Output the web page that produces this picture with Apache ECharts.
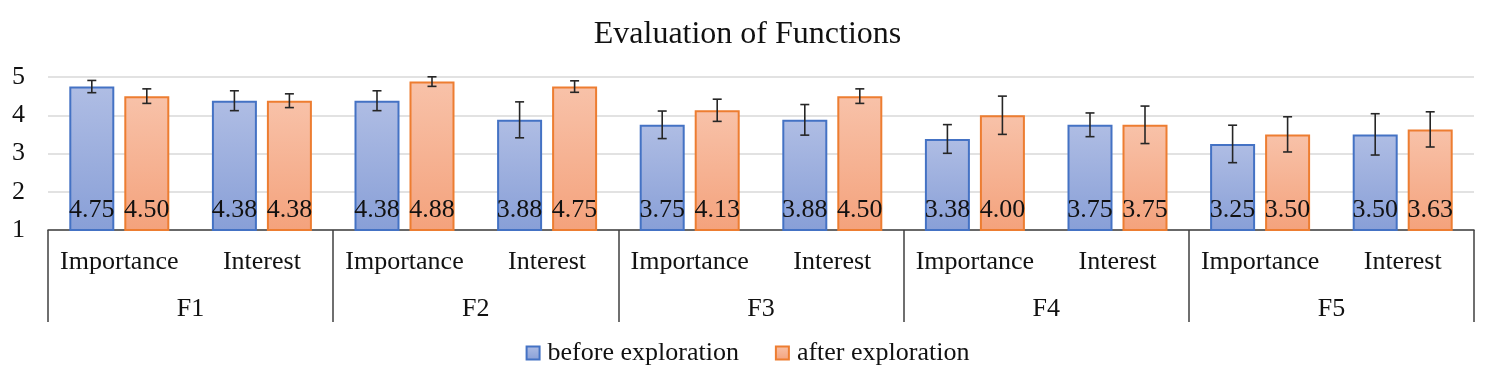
<!DOCTYPE html>
<html><head><meta charset="utf-8">
<script src="https://cdn.jsdelivr.net/npm/echarts@6/dist/echarts.min.js"></script>
<style>html,body{margin:0;padding:0;background:#fff}#c{width:1495px;height:383px}</style>
</head><body><div id="c"></div>
<script>
const categories = ['Importance','Interest','Importance','Interest','Importance','Interest','Importance','Interest','Importance','Interest'];
const groups = ['F1','F2','F3','F4','F5'];
const seriesNames = ['before exploration','after exploration'];
const before = [4.75, 4.38, 4.38, 3.88, 3.75, 3.88, 3.38, 3.75, 3.25, 3.50];
const after  = [4.50, 4.38, 4.88, 4.75, 4.13, 4.50, 4.00, 3.75, 3.50, 3.63];
const beforeErr = [0.16, 0.26, 0.26, 0.47, 0.36, 0.40, 0.375, 0.31, 0.49, 0.54];
const afterErr  = [0.19, 0.18, 0.125, 0.15, 0.29, 0.19, 0.50, 0.49, 0.46, 0.46];
const yTicks = [1, 2, 3, 4, 5];

const FONT = '"Liberation Serif", "Times New Roman", serif';
const BAR_W = 45, BAR_GAP = 10;
const OFF = (BAR_W + BAR_GAP) / 2;

function grad(top, bottom) {
  return new echarts.graphic.LinearGradient(0, 0, 0, 1, [{offset: 0, color: top}, {offset: 1, color: bottom}]);
}
const blueFill = grad('#afbde4', '#889fd7');
const orangeFill = grad('#f8c2a9', '#f4a27c');

function errSeries(vals, errs, dir) {
  return {
    type: 'custom', xAxisIndex: 0, yAxisIndex: 0, z: 5, silent: true,
    data: vals.map((v, i) => [i, v, errs[i]]),
    renderItem: function (params, api) {
      const i = api.value(0), v = api.value(1), e = api.value(2);
      const top = api.coord([i, v + e]);
      const bot = api.coord([i, v - e]);
      const x = top[0] + dir * OFF;
      const st = {stroke: '#262626', lineWidth: 1.6};
      const cw = 4.5;
      return {type: 'group', children: [
        {type: 'line', shape: {x1: x, y1: top[1], x2: x, y2: bot[1]}, style: st},
        {type: 'line', shape: {x1: x - cw, y1: top[1], x2: x + cw, y2: top[1]}, style: st},
        {type: 'line', shape: {x1: x - cw, y1: bot[1], x2: x + cw, y2: bot[1]}, style: st}
      ]};
    }
  };
}

const labelCfg = {
  show: true, position: 'insideBottom', distance: 8, color: '#111',
  fontFamily: FONT, fontSize: 26,
  formatter: p => p.value.toFixed(2)
};

const chart = echarts.init(document.getElementById('c'));
chart.setOption({
  animation: false,
  textStyle: {fontFamily: FONT},
  title: {text: 'Evaluation of Functions', left: 'center', top: 14,
    textStyle: {fontFamily: FONT, fontSize: 32, fontWeight: 'normal', color: '#111'}},
  legend: {
    data: seriesNames, bottom: 12, left: 'center', itemWidth: 13, itemHeight: 13, itemGap: 36,
    icon: 'rect',
    textStyle: {fontFamily: FONT, fontSize: 26, color: '#111', padding: [0, 0, 0, 3]}
  },
  grid: {left: 48, right: 21, top: 77, bottom: 153, containLabel: false},
  xAxis: [
    {type: 'category', data: categories, position: 'bottom',
     axisLine: {show: true, lineStyle: {color: '#404040', width: 1.5}},
     axisTick: {show: false},
     axisLabel: {fontFamily: FONT, fontSize: 26, color: '#111', margin: 19, interval: 0}},
    {type: 'category', data: groups, position: 'bottom',
     axisLine: {show: false},
     axisTick: {show: true, length: 92, interval: 0, lineStyle: {color: '#404040', width: 1.5}},
     axisLabel: {fontFamily: FONT, fontSize: 26, color: '#111', margin: 66, interval: 0}}
  ],
  yAxis: {
    type: 'value', min: yTicks[0], max: yTicks[yTicks.length - 1], interval: 1,
    axisLine: {show: false}, axisTick: {show: false},
    axisLabel: {fontFamily: FONT, fontSize: 26, color: '#111', margin: 23},
    splitLine: {lineStyle: {color: '#d9d9d9', width: 1.5}}
  },
  series: [
    {name: seriesNames[0], type: 'bar', data: before, barWidth: BAR_W, barGap: (BAR_GAP / BAR_W * 100) + '%',
     itemStyle: {color: blueFill, borderColor: '#4472c4', borderWidth: 2}, label: labelCfg},
    {name: seriesNames[1], type: 'bar', data: after, barWidth: BAR_W,
     itemStyle: {color: orangeFill, borderColor: '#ed7d31', borderWidth: 2}, label: labelCfg},
    errSeries(before, beforeErr, -1),
    errSeries(after, afterErr, 1)
  ]
});
</script></body></html>
